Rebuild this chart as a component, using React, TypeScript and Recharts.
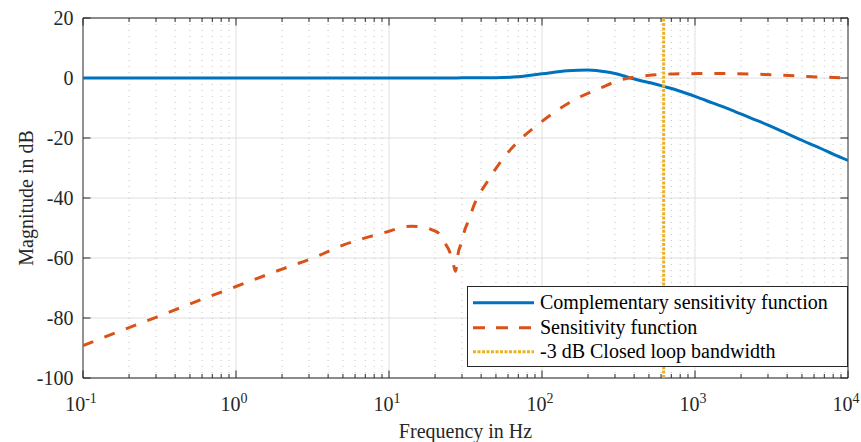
import React from 'react';
import {
  LineChart,
  Line,
  XAxis,
  YAxis,
  CartesianGrid,
  ReferenceLine,
  ReferenceArea,
  Legend,
} from 'recharts';

// ---- Data ----
const complementaryFreq = [0.1, 1, 10, 20, 30, 50, 65, 100, 146, 200, 267, 300, 340, 380, 450, 540, 624, 800, 1000, 1300, 1715, 2300, 2980, 3800, 4680, 5600, 6650, 8000, 10000];
const complementaryDb = [0, 0, 0, 0, 0.05, 0.1, 0.3, 1.4, 2.4, 2.7, 2.0, 1.5, 0.75, 0, -1.0, -1.9, -2.8, -4.4, -6.1, -8.3, -10.6, -13.3, -15.6, -18.0, -20.1, -21.9, -23.5, -25.4, -27.5];

const sensitivityFreq = [0.1, 0.2, 0.3, 0.5, 1, 2, 3.37, 5, 7, 10, 12.3, 14, 17, 19.5, 21.2, 22.9, 25.1, 26.5, 27.2, 27.7, 28.2, 29.7, 31, 33.3, 36, 44, 55, 70, 91, 123, 171, 242, 327, 490, 807, 1480, 2820, 5440, 10000];
const sensitivityDb = [-89.2, -83.2, -79.8, -75.3, -69.5, -63.7, -59.5, -55.7, -53.3, -51.1, -49.7, -49.4, -49.7, -50.8, -51.8, -54.6, -58.3, -62.6, -64.4, -62.6, -59, -55, -51.3, -47.2, -42.3, -34.5, -27.2, -21.1, -16.1, -11.1, -6.7, -3.3, -0.6, 0.8, 1.4, 1.5, 1.2, 0.5, 0];

const bandwidthHz = 624;
const bandwidthDbRange = [-100, 20];

const yTicks = [-100, -80, -60, -40, -20, 0, 20];
const decadeTicks = [0.1, 1, 10, 100, 1000, 10000];
const minorMultipliers = [2, 3, 4, 5, 6, 7, 8, 9];

const seriesNames = [
  'Complementary sensitivity function',
  'Sensitivity function',
  '-3 dB Closed loop bandwidth',
];
const xLabel = 'Frequency in Hz';
const yLabel = 'Magnitude in dB';

// ---- Derived tables ----
const complementaryData = complementaryFreq.map((f, i) => ({ f, db: complementaryDb[i] }));
const sensitivityData = sensitivityFreq.map((f, i) => ({ f, db: sensitivityDb[i] }));
const bandwidthData = bandwidthDbRange.map((db) => ({ f: bandwidthHz, db }));

const minorTicks: number[] = [];
decadeTicks.slice(0, -1).forEach((d) => minorMultipliers.forEach((m) => minorTicks.push(d * m)));
const innerDecades = decadeTicks.slice(1, -1);

const X_MIN = decadeTicks[0];
const X_MAX = decadeTicks[decadeTicks.length - 1];
const Y_MIN = yTicks[0];
const Y_MAX = yTicks[yTicks.length - 1];

const BLUE = '#0072BD';
const ORANGE = '#D95319';
const YELLOW = '#EDB120';
const AXIS = '#262626';
const FONT = '"Liberation Serif", "Times New Roman", serif';

// tick lengths in data units (major ~7.5px, minor ~4px)
const MAJOR_DB = 2.5;
const MINOR_DB = 1.33;
const Y_TICK_FACTOR = 1.12;

const XTick = (props: any) => {
  const { x, y, payload } = props;
  const e = Math.round(Math.log10(payload.value));
  return (
    <text x={x - 2} y={y + 33} textAnchor="middle" fontFamily={FONT} fontSize={20} fill={AXIS}>
      <tspan>10</tspan>
      <tspan dy={-8.4} fontSize={14}>{String(e)}</tspan>
    </text>
  );
};

const YTick = (props: any) => {
  const { x, y, payload } = props;
  return (
    <text x={x} y={y + 7} textAnchor="end" fontFamily={FONT} fontSize={20} fill={AXIS}>
      {String(payload.value)}
    </text>
  );
};

const LegendBox = () => {
  const rows = [16.7, 41.7, 65.7];
  return (
    <svg width={381} height={81} style={{ display: 'block' }}>
      <rect x={0.5} y={0.5} width={380} height={80} fill="#fff" stroke={AXIS} strokeWidth={1} />
      <line x1={6} x2={67} y1={rows[0]} y2={rows[0]} stroke={BLUE} strokeWidth={3} />
      <line x1={6} x2={67} y1={rows[1]} y2={rows[1]} stroke={ORANGE} strokeWidth={3} strokeDasharray="12 11" />
      <line x1={6} x2={67} y1={rows[2]} y2={rows[2]} stroke={YELLOW} strokeWidth={3} strokeDasharray="3 1.5" />
      {seriesNames.map((n, i) => (
        <text key={n} x={73} y={rows[i] + 6.5} fontFamily={FONT} fontSize={20} fill="#000">
          {n}
        </text>
      ))}
    </svg>
  );
};

export default function App() {
  return (
    <div style={{ width: 861, height: 442, boxSizing: 'border-box', paddingLeft: 8, paddingTop: 8, background: '#fff' }}>
      <style>{'body{margin:0}'}</style>
      <LineChart
        width={853}
        height={434}
        margin={{ top: 10, right: 13, left: 0, bottom: 0 }}
      >
        <CartesianGrid vertical={false} stroke="#dfdfdf" strokeWidth={1} />
        <CartesianGrid horizontal={false} verticalValues={innerDecades} stroke="#dfdfdf" strokeWidth={1} />
        <CartesianGrid horizontal={false} verticalValues={minorTicks} stroke="#c4c4c4" strokeWidth={1} strokeDasharray="1 5" />
        <XAxis
          dataKey="f"
          type="number"
          scale="log"
          domain={[X_MIN, X_MAX]}
          allowDataOverflow
          ticks={decadeTicks}
          tick={<XTick />}
          tickLine={false}
          axisLine={false}
          tickSize={0}
          tickMargin={0}
          height={64}
          interval={0}
          label={{
            content: (p: any) => {
              const vb = p.viewBox;
              return (
                <text x={vb.x + vb.width / 2} y={vb.y + 59.7} textAnchor="middle" fontFamily={FONT} fontSize={20} fill={AXIS}>
                  {xLabel}
                </text>
              );
            },
          }}
        />
        <YAxis
          type="number"
          domain={[Y_MIN, Y_MAX]}
          ticks={yTicks}
          tick={<YTick />}
          tickLine={false}
          axisLine={false}
          tickSize={0}
          tickMargin={9.5}
          width={75}
          interval={0}
          allowDataOverflow
          label={{
            content: (p: any) => {
              const vb = p.viewBox;
              const cx = 25;
              const cy = vb.y + vb.height / 2;
              return (
                <text x={cx} y={cy} transform={`rotate(-90, ${cx}, ${cy})`} textAnchor="middle" fontFamily={FONT} fontSize={20} fill={AXIS}>
                  {yLabel}
                </text>
              );
            },
          }}
        />

        {/* inward tick marks, bottom & top */}
        {decadeTicks.map((v) => (
          <ReferenceLine key={`bM${v}`} segment={[{ x: v, y: Y_MIN }, { x: v, y: Y_MIN + MAJOR_DB }]} stroke={AXIS} strokeWidth={1} ifOverflow="visible" />
        ))}
        {decadeTicks.map((v) => (
          <ReferenceLine key={`tM${v}`} segment={[{ x: v, y: Y_MAX }, { x: v, y: Y_MAX - MAJOR_DB }]} stroke={AXIS} strokeWidth={1} ifOverflow="visible" />
        ))}
        {minorTicks.map((v) => (
          <ReferenceLine key={`bm${v}`} segment={[{ x: v, y: Y_MIN }, { x: v, y: Y_MIN + MINOR_DB }]} stroke={AXIS} strokeWidth={1} ifOverflow="visible" />
        ))}
        {minorTicks.map((v) => (
          <ReferenceLine key={`tm${v}`} segment={[{ x: v, y: Y_MAX }, { x: v, y: Y_MAX - MINOR_DB }]} stroke={AXIS} strokeWidth={1} ifOverflow="visible" />
        ))}
        {yTicks.map((v) => (
          <ReferenceLine key={`l${v}`} segment={[{ x: X_MIN, y: v }, { x: X_MIN * Y_TICK_FACTOR, y: v }]} stroke={AXIS} strokeWidth={1} ifOverflow="visible" />
        ))}
        {yTicks.map((v) => (
          <ReferenceLine key={`r${v}`} segment={[{ x: X_MAX, y: v }, { x: X_MAX / Y_TICK_FACTOR, y: v }]} stroke={AXIS} strokeWidth={1} ifOverflow="visible" />
        ))}

        <Line data={complementaryData} dataKey="db" type="monotone" stroke={BLUE} strokeWidth={3} dot={false} isAnimationActive={false} name={seriesNames[0]} />
        <Line data={sensitivityData} dataKey="db" type="monotone" stroke={ORANGE} strokeWidth={3} strokeDasharray="11 12" dot={false} isAnimationActive={false} name={seriesNames[1]} />
        <Line data={bandwidthData} dataKey="db" type="linear" stroke={YELLOW} strokeWidth={3} strokeDasharray="3 1.4" dot={false} isAnimationActive={false} name={seriesNames[2]} />

        <ReferenceArea x1={X_MIN} x2={X_MAX} y1={Y_MIN} y2={Y_MAX} fill="none" fillOpacity={0} stroke={AXIS} strokeWidth={1} ifOverflow="visible" />

        <Legend
          layout="vertical"
          align="center"
          verticalAlign="middle"
          content={() => <LegendBox />}
          wrapperStyle={{ left: 459, top: 278, width: 381, height: 81 }}
        />
      </LineChart>
    </div>
  );
}
